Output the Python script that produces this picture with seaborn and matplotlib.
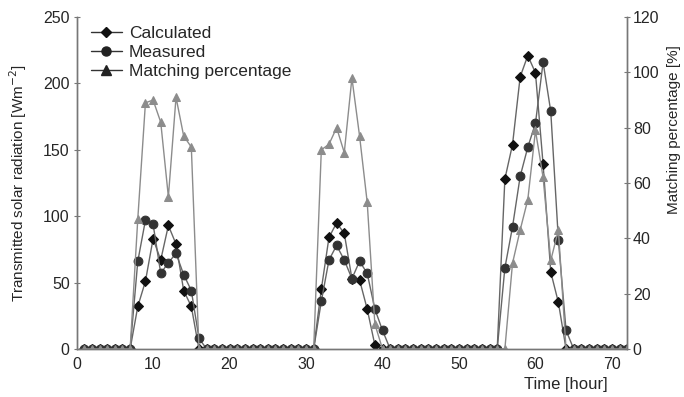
import matplotlib
matplotlib.use("Agg")
import matplotlib.pyplot as plt
from matplotlib.lines import Line2D
import seaborn as sns
import pandas as pd

# hourly values
hours = list(range(1, 73))

calculated = [
    0, 0, 0, 0, 0, 0, 0, 32, 51, 83, 67, 93,        # 1-12
    79, 44, 32, 0, 0, 0, 0, 0, 0, 0, 0, 0,          # 13-24
    0, 0, 0, 0, 0, 0, 0, 45, 84, 95, 87, 53,        # 25-36
    52, 30, 3, 0, 0, 0, 0, 0, 0, 0, 0, 0,           # 37-48
    0, 0, 0, 0, 0, 0, 0, 128, 154, 205, 221, 208,   # 49-60
    139, 58, 35, 0, 0, 0, 0, 0, 0, 0, 0, 0,         # 61-72
]
measured = [
    0, 0, 0, 0, 0, 0, 0, 66, 97, 94, 57, 65,
    72, 56, 44, 8, 0, 0, 0, 0, 0, 0, 0, 0,
    0, 0, 0, 0, 0, 0, 0, 36, 67, 78, 67, 53,
    66, 57, 30, 14, 0, 0, 0, 0, 0, 0, 0, 0,
    0, 0, 0, 0, 0, 0, 0, 61, 92, 130, 152, 170,
    216, 179, 82, 14, 0, 0, 0, 0, 0, 0, 0, 0,
]
matching = [
    0, 0, 0, 0, 0, 0, 0, 47, 89, 90, 82, 55,
    91, 77, 73, 0, 0, 0, 0, 0, 0, 0, 0, 0,
    0, 0, 0, 0, 0, 0, 0, 72, 74, 80, 71, 98,
    77, 53, 9, 0, 0, 0, 0, 0, 0, 0, 0, 0,
    0, 0, 0, 0, 0, 0, 0, 0, 31, 43, 54, 79,
    62, 32, 43, 0, 0, 0, 0, 0, 0, 0, 0, 0,
]

df = pd.DataFrame({"hour": hours, "calc": calculated,
                   "meas": measured, "match": matching})

sns.set_style("white")
plt.rcParams["font.family"] = ["Liberation Sans", "DejaVu Sans"]

fig = plt.figure(figsize=(6.84, 3.97), dpi=100)
ax = fig.add_axes([0.112, 0.121, 0.805, 0.836])
ax2 = ax.twinx()

line_col = "#666666"
sns.lineplot(data=df, x="hour", y="calc", ax=ax, color=line_col, lw=1,
             marker="D", markersize=4.8, markerfacecolor="#111111",
             markeredgecolor="#111111")
sns.lineplot(data=df, x="hour", y="meas", ax=ax, color=line_col, lw=1,
             marker="o", markersize=6.3, markerfacecolor="#333333",
             markeredgecolor="#333333")
sns.lineplot(data=df, x="hour", y="match", ax=ax2, color="#8c8c8c", lw=1,
             marker="^", markersize=5.8, markerfacecolor="#8c8c8c",
             markeredgecolor="#8c8c8c")

ax.set_xlim(0, 72)
ax.set_ylim(0, 250)
ax2.set_ylim(0, 120)
ax.set_xticks(range(0, 71, 10))
ax.set_yticks(range(0, 251, 50))
ax2.set_yticks(range(0, 121, 20))

spine_col = "#777777"
for a in (ax, ax2):
    a.spines["top"].set_visible(False)
    for s in ("left", "right", "bottom"):
        a.spines[s].set_color(spine_col)
        a.spines[s].set_linewidth(1)
ax.tick_params(axis="y", direction="inout", length=4, color=spine_col,
               labelsize=11.5, pad=3)
ax.tick_params(axis="x", direction="in", length=2, color=spine_col,
               labelsize=11.5, pad=6)
ax2.tick_params(axis="y", direction="inout", length=4, color=spine_col,
                labelsize=11.5, pad=2)

ax.set_xlabel("Time [hour]", fontsize=12, loc="right")
ax.xaxis.set_label_coords(0.965, -0.085)
ax.set_ylabel("Transmitted solar radiation [Wm$^{-2}$]", fontsize=11)
ax.yaxis.set_label_coords(-0.087, 0.5)
ax2.set_ylabel("Matching percentage [%]", fontsize=11)
ax2.yaxis.set_label_coords(1.072, 0.66)

handles = [
    Line2D([], [], color="#333333", lw=1, marker="D", markersize=5.5,
           markerfacecolor="#111111", markeredgecolor="#111111"),
    Line2D([], [], color="#333333", lw=1, marker="o", markersize=6.5,
           markerfacecolor="#222222", markeredgecolor="#222222"),
    Line2D([], [], color="#333333", lw=1, marker="^", markersize=6.5,
           markerfacecolor="#222222", markeredgecolor="#222222"),
]
ax.legend(handles, ["Calculated", "Measured", "Matching percentage"],
          loc="upper left", bbox_to_anchor=(0.01, 1.0), frameon=False,
          fontsize=12.5, handlelength=1.8, handletextpad=0.4,
          labelspacing=0.22, borderpad=0)

fig.savefig("out.png", dpi=100)
